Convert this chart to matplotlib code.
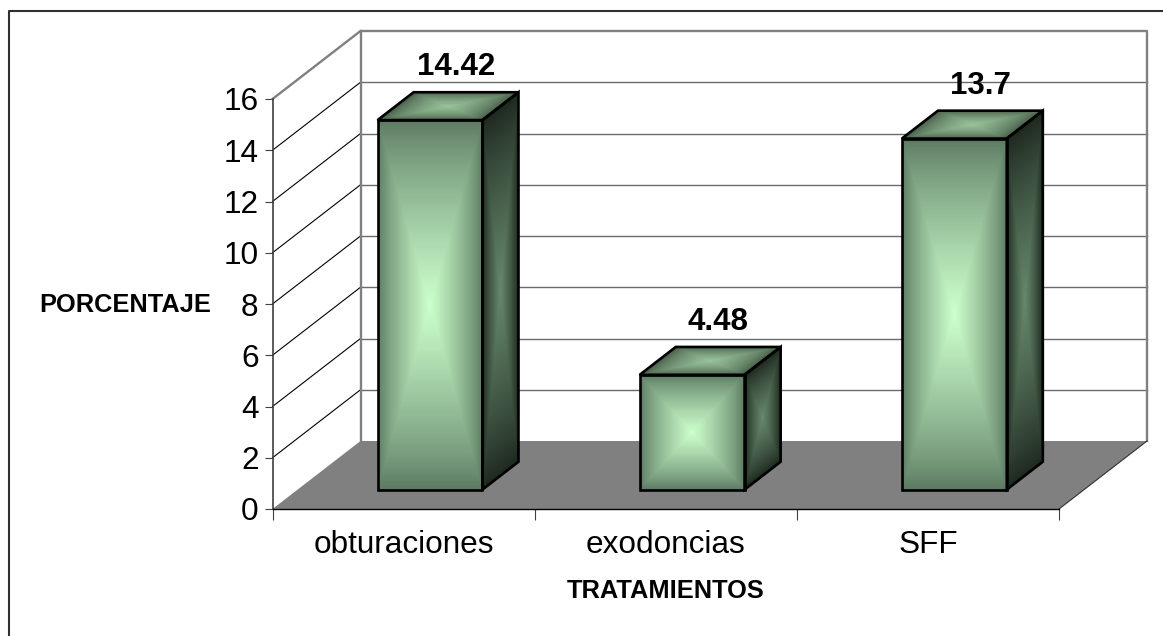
import numpy as np
import matplotlib
matplotlib.use("Agg")
import matplotlib.pyplot as plt
from matplotlib.colors import LinearSegmentedColormap

categories = ["obturaciones", "exodoncias", "SFF"]
values = [14.42, 4.48, 13.7]
value_labels = ["14.42", "4.48", "13.7"]
y_ticks = [0, 2, 4, 6, 8, 10, 12, 14, 16]
x_title = "TRATAMIENTOS"
y_title = "PORCENTAJE"

W, H = 1163, 636
plt.rcParams["font.family"] = ["Liberation Sans", "DejaVu Sans"]
fig = plt.figure(figsize=(W / 100, H / 100), dpi=100, facecolor="white")

L, R, T, B = 272.5, 1059.0, 99.0, 509.0
ax = fig.add_axes([L / W, 1 - B / H, (R - L) / W, (B - T) / H])
ax.set_xlim(0, len(categories))
ax.set_ylim(0, 16)
ax.patch.set_visible(False)

px_x = len(categories) / (R - L)   # data units per pixel
px_y = 16 / (B - T)
DX = 88 * px_x                     # full depth of the floor
DY = 68 * px_y


def proj(x, v, d):
    """Data position of (category x, value v) at depth d (0 front, 1 back)."""
    return x + DX * d, v + DY * d


GRAY = "#808080"
# floor
fx = [proj(0, 0, 0)[0], proj(3, 0, 0)[0], proj(3, 0, 1)[0], proj(0, 0, 1)[0]]
fy = [proj(0, 0, 0)[1], proj(3, 0, 0)[1], proj(3, 0, 1)[1], proj(0, 0, 1)[1]]
ax.fill(fx, fy, color=GRAY, lw=0, zorder=1, clip_on=False)

# gridlines: left wall and back wall
for v in y_ticks[1:-1]:
    a, b = proj(0, v, 0), proj(0, v, 1)
    c = proj(3, v, 1)
    ax.plot([a[0], b[0]], [a[1], b[1]], color="black", lw=0.8, zorder=2, clip_on=False)
    ax.plot([b[0], c[0]], [b[1], c[1]], color="#6a6a6a", lw=1.0, zorder=2, clip_on=False)
# wall frame
a, b, c, d = proj(0, 16, 0), proj(0, 16, 1), proj(3, 16, 1), proj(3, 0, 1)
e = proj(0, 0, 1)
ax.plot([a[0], b[0], c[0], d[0]], [a[1], b[1], c[1], d[1]], color=GRAY, lw=1.7, zorder=2, clip_on=False)
ax.plot([b[0], e[0]], [b[1], e[1]], color=GRAY, lw=1.7, zorder=2, clip_on=False)
f = proj(3, 0, 0)
ax.plot([f[0], d[0]], [f[1], d[1]], color="#303030", lw=0.8, zorder=2, clip_on=False)

# gradient maps (0 edge → 1 centre)
front_cm = LinearSegmentedColormap.from_list("f", ["#5A7860", "#CCFFCC"])
side_cm = LinearSegmentedColormap.from_list("s", ["#1C261D", "#66886C"])
top_cm = LinearSegmentedColormap.from_list("t", ["#3E5240", "#98C29A"])

n = 220
u, w = np.meshgrid(np.linspace(0, 1, n + 1), np.linspace(0, 1, n + 1))
uc, wc = np.meshgrid((np.arange(n) + .5) / n, (np.arange(n) + .5) / n)
grad = 1 - np.maximum(np.abs(2 * uc - 1), np.abs(2 * wc - 1))

BAR_W = 0.40
D0, D1 = 0.285, 0.695
for i, val in enumerate(values):
    x0 = i + 0.5 - BAR_W / 2 + 0.005
    x1 = x0 + BAR_W
    # front
    X0, Y0 = proj(x0 + u * BAR_W, w * val, D0)
    ax.pcolormesh(X0, Y0, grad ** 0.8, cmap=front_cm, vmin=0, vmax=1, zorder=3,
                  antialiased=False, linewidth=0, clip_on=False)
    # side
    X1, Y1 = proj(x1, w * val, D0 + u * (D1 - D0))
    ax.pcolormesh(X1, Y1, grad ** 0.8, cmap=side_cm, vmin=0, vmax=1, zorder=3,
                  antialiased=False, linewidth=0, clip_on=False)
    # top
    X2, Y2 = proj(x0 + u * BAR_W, val, D0 + w * (D1 - D0))
    ax.pcolormesh(X2, Y2, grad ** 0.6, cmap=top_cm, vmin=0, vmax=1, zorder=3,
                  antialiased=False, linewidth=0, clip_on=False)
    # outlines
    faces = [
        [proj(x0, 0, D0), proj(x1, 0, D0), proj(x1, val, D0), proj(x0, val, D0)],
        [proj(x1, 0, D0), proj(x1, 0, D1), proj(x1, val, D1), proj(x1, val, D0)],
        [proj(x0, val, D0), proj(x1, val, D0), proj(x1, val, D1), proj(x0, val, D1)],
    ]
    for face in faces:
        xs, ys = zip(*face)
        ax.fill(xs, ys, fill=False, edgecolor="black", lw=1.9, zorder=4,
                joinstyle="miter", clip_on=False)
    # data label
    tx, ty = proj(x0 + BAR_W / 2, val, D0)
    ax.annotate(value_labels[i], (tx, ty), xytext=(18.5, 38), textcoords="offset points",
                ha="center", va="center", fontsize=22.5, fontweight="bold", color="black",
                zorder=5, annotation_clip=False)

# axes
for s in ("top", "right"):
    ax.spines[s].set_visible(False)
ax.spines["left"].set_color("#404040")
ax.spines["left"].set_linewidth(1.2)
ax.spines["bottom"].set_color("black")
ax.spines["bottom"].set_linewidth(1.0)
ax.spines["left"].set_zorder(2.5)
ax.spines["bottom"].set_zorder(2.5)
ax.set_yticks(y_ticks)
ax.set_yticklabels([str(v) for v in y_ticks])
ax.set_xticks(range(len(categories) + 1))
ax.set_xticklabels([])
ax.set_xticks([i + .5 for i in range(len(categories))], minor=True)
ax.set_xticklabels(categories, minor=True)
ax.tick_params(axis="y", length=6, width=0.8, color="#404040", labelsize=22.7, pad=4)
ax.tick_params(axis="x", which="major", length=8, width=0.8, color="#404040")
ax.tick_params(axis="x", which="minor", length=0, labelsize=22.7, pad=15)

fig.text(125 / W, 1 - 305 / H, y_title, fontsize=18.3, fontweight="bold", ha="center", va="center")
fig.text(665.5 / W, 1 - 591 / H, x_title, fontsize=18.3, fontweight="bold", ha="center", va="center")

# chart area frame
fig.add_artist(plt.Line2D([8.5 / W, 8.5 / W, 1], [0, 1 - 11 / H, 1 - 11 / H], color="#303030", lw=1.5))

fig.savefig("out.png", dpi=100, facecolor="white")
